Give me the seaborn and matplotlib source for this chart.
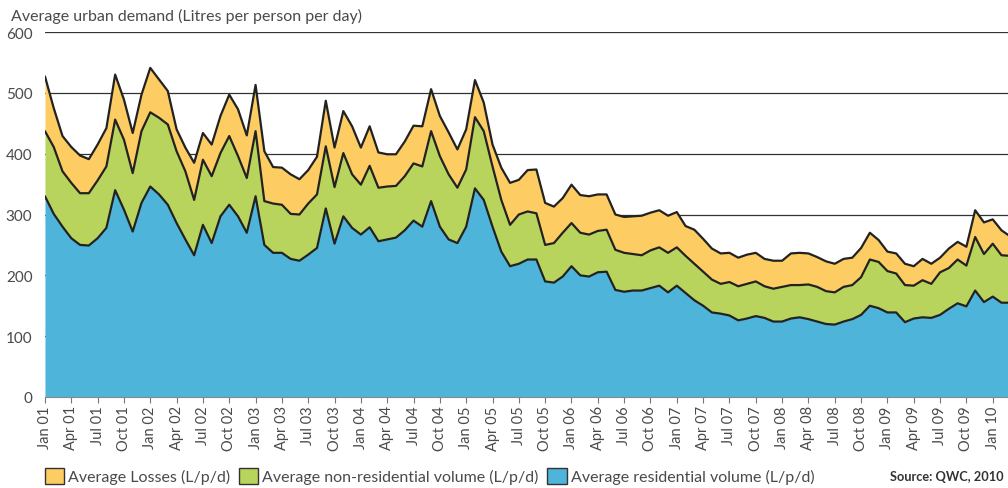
import numpy as np
import pandas as pd
import matplotlib
matplotlib.use('Agg')
import matplotlib.pyplot as plt
import seaborn as sns
from matplotlib.patches import Patch

# ── Data: monthly averages, Jan 2001 .. Mar 2010 (L/p/d) ─────────────────────

residential = [
    330, 301, 280, 261, 250, 249, 261, 278, 340, 308, 272, 319,   # 2001
    346, 333, 316, 286, 259, 233, 283, 253, 297, 316, 297, 270,   # 2002
    330, 250, 237, 237, 227, 224, 234, 245, 310, 252, 297, 278,   # 2003
    267, 279, 256, 259, 262, 274, 290, 280, 322, 280, 259, 253,   # 2004
    280, 343, 324, 280, 239, 215, 219, 226, 226, 190, 188, 198,   # 2005
    215, 200, 198, 205, 206, 176, 173, 175, 175, 179, 183, 172,   # 2006
    183, 171, 159, 150, 139, 137, 134, 126, 129, 133, 130, 124,   # 2007
    124, 129, 131, 128, 124, 120, 119, 124, 128, 135, 150, 146,   # 2008
    139, 139, 123, 129, 131, 130, 135, 145, 154, 149, 175, 156,   # 2009
    165, 155, 155,                                                # 2010
]
non_residential = [
    107, 110, 91, 91, 85, 86, 95, 101, 116, 115, 96, 118,
    122, 126, 132, 118, 112, 91, 107, 110, 104, 113, 99, 90,
    107, 72, 81, 79, 74, 76, 84, 88, 102, 93, 104, 88,
    82, 101, 88, 87, 85, 89, 94, 99, 115, 116, 107, 91,
    94, 117, 113, 99, 85, 68, 81, 79, 76, 60, 65, 72,
    71, 70, 69, 68, 69, 66, 64, 60, 58, 62, 63, 65,
    63, 61, 60, 56, 54, 49, 55, 56, 57, 57, 52, 54,
    57, 55, 53, 57, 57, 54, 53, 57, 56, 62, 76, 76,
    68, 64, 61, 54, 61, 56, 70, 67, 72, 67, 88, 79,
    87, 78, 77,
]
losses = [
    90, 64, 58, 59, 62, 56, 59, 63, 74, 66, 66, 60,
    73, 63, 55, 36, 39, 61, 44, 52, 61, 68, 77, 70,
    76, 82, 60, 61, 65, 58, 55, 62, 75, 65, 69, 79,
    61, 65, 58, 53, 52, 57, 62, 66, 69, 66, 69, 63,
    66, 61, 47, 36, 53, 69, 57, 68, 72, 69, 60, 57,
    63, 62, 63, 60, 58, 58, 59, 62, 65, 62, 61, 61,
    58, 49, 56, 54, 51, 50, 48, 47, 48, 47, 45, 46,
    43, 52, 53, 51, 49, 49, 47, 46, 45, 48, 44, 36,
    32, 33, 35, 32, 35, 33, 24, 32, 29, 31, 44, 52,
    40, 41, 32,
]

quarters = ['Jan', 'Apr', 'Jul', 'Oct']
years = ['01', '02', '03', '04', '05', '06', '07', '08', '09', '10']
tick_labels = [f'{q} {y}' for y in years for q in quarters][:37]

series_names = ['Average Losses (L/p/d)',
                'Average non-residential volume (L/p/d)',
                'Average residential volume (L/p/d)']
c_loss, c_nonres, c_res = '#FDCC62', '#B9D45C', '#4FB4D9'
edge = '#222222'
grey = '#4a4a4a'

df = pd.DataFrame({
    'month': np.arange(len(residential)),
    'res': residential,
    'nonres': non_residential,
    'loss': losses,
})
df['green_top'] = df['res'] + df['nonres']
df['total'] = df['green_top'] + df['loss']

# ── Plot ──────────────────────────────────────────────────────────────────────

sns.set_style('white')
plt.rcParams['font.family'] = ['Lato', 'DejaVu Sans']

fig = plt.figure(figsize=(10.08, 4.89), dpi=100)
ax = fig.add_axes([0.0446, 0.1861, 0.9554, 0.7464])

ax.stackplot(df['month'], df['res'], df['nonres'], df['loss'],
             colors=[c_res, c_nonres, c_loss], linewidth=0, zorder=2)
for col in ['res', 'green_top', 'total']:
    sns.lineplot(data=df, x='month', y=col, ax=ax, color=edge,
                 linewidth=1.6, zorder=3)

ax.set_xlim(0, 109.74)
ax.set_ylim(0, 600)
ax.set_yticks(range(0, 700, 100))
ax.yaxis.grid(True, color='#333333', linewidth=0.9)
ax.set_axisbelow(True)
ax.set_xticks(np.arange(0, 37 * 3, 3))
ax.set_xticklabels(tick_labels)
ax.set_xlabel('')
ax.set_ylabel('')

ax.tick_params(axis='x', direction='out', length=4, width=0.8, color='#777777',
               labelrotation=90, labelsize=10.5, labelcolor=grey, pad=2,
               bottom=True)
ax.tick_params(axis='y', length=0, pad=9, labelsize=11, labelcolor=grey)
for s in ['top', 'right', 'left']:
    ax.spines[s].set_visible(False)
ax.spines['bottom'].set_color('#888888')
ax.spines['bottom'].set_linewidth(0.8)

fig.text(0.011, 0.966, 'Average urban demand (Litres per person per day)',
         ha='left', va='center', fontsize=11.5, color=grey)

handles = [Patch(facecolor=c, edgecolor='#333333', linewidth=1.0)
           for c in [c_loss, c_nonres, c_res]]
fig.legend(handles, series_names, loc='center left',
           bbox_to_anchor=(0.0446, 0.0245), ncol=3, frameon=False,
           fontsize=11.5, labelcolor=grey, handlelength=1.2, handleheight=1.2,
           handletextpad=0.25, columnspacing=0.55, borderaxespad=0,
           borderpad=0)

fig.text(0.996, 0.0245, 'Source: QWC, 2010', ha='right', va='center',
         fontsize=9.2, fontweight='bold', color='#333333')

fig.savefig('out.png', dpi=100)
